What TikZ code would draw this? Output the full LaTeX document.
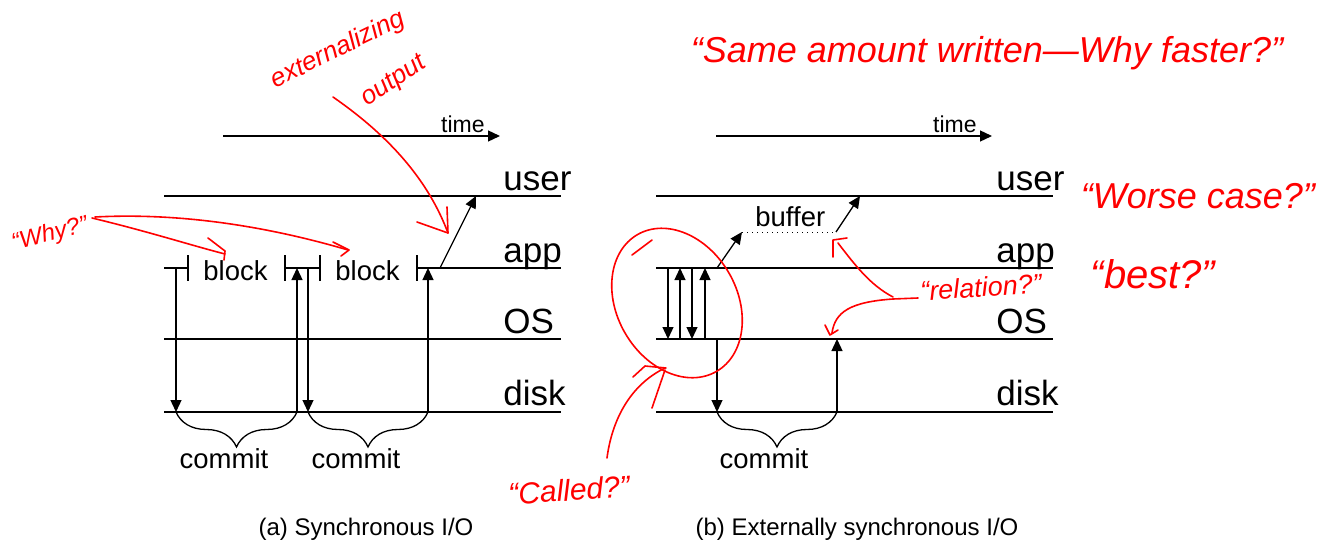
\documentclass[tikz,border=0pt]{standalone}
\usepackage{fontspec}
\setmainfont{Liberation Sans}
\usetikzlibrary{arrows.meta, decorations.pathreplacing}
\tikzstyle{lane} = [line width=0.65pt]
\tikzstyle{io} = [line width=0.65pt, -{Triangle[width=5.5pt,length=6pt]}]
\tikzstyle{commitbrace} = [line width=0.65pt, decorate, decoration={brace, mirror, amplitude=17.5pt}]
\tikzstyle{lanelabel} = [anchor=base west, inner sep=0pt, font=\fontsize{17.5}{20}\selectfont]
\tikzstyle{smalllabel} = [inner sep=0pt, font=\fontsize{13.75}{16}\selectfont]
\tikzstyle{timelabel} = [anchor=base east, inner sep=0pt, font=\fontsize{11.5}{13}\selectfont]
\tikzstyle{caption} = [anchor=base, inner sep=0pt, font=\fontsize{12}{14}\selectfont]
\tikzstyle{note} = [text=red, inner sep=0pt]
\tikzstyle{ink} = [red, line width=0.8pt, line cap=round, line join=round]

\begin{document}
\begin{tikzpicture}[x=0.5pt, y=-0.5pt]
\useasboundingbox (0,0) rectangle (1341,546);

% (a) synchronous
\coordinate (tA0) at (223,136);
\coordinate (tA1) at (500,136);
\draw[io] (tA0) -- (tA1);
\node (timeA) [timelabel] at (485,132) {time};

\draw[lane] (164,196) -- (561,196);
\draw[lane] (164,339) -- (561,339);
\draw[lane] (164,412) -- (561,412);
\node (userA) [lanelabel] at (503,190) {user};
\node (appA) [lanelabel] at (503,262) {app};
\node (osA) [lanelabel] at (503,333) {OS};
\node (diskA) [lanelabel] at (503,405) {disk};

\draw[lane] (164,268) -- (188,268) (188,255) -- (188,281);
\draw[lane] (285,255) -- (285,281) (285,268) -- (320,268) (320,255) -- (320,281);
\draw[lane] (417,255) -- (417,281) (417,268) -- (561,268);
\node (blockA1) [smalllabel, anchor=base west] at (203,280) {block};
\node (blockA2) [smalllabel, anchor=base west] at (335,280) {block};

\coordinate (wA1) at (176,268);
\coordinate (dA1) at (176,412);
\coordinate (dA2) at (297,412);
\coordinate (wA2) at (297,268);
\coordinate (wA3) at (308,268);
\coordinate (dA3) at (308,412);
\coordinate (dA4) at (428,412);
\coordinate (wA4) at (428,268);
\coordinate (outA0) at (440,268);
\coordinate (outA1) at (476,196);
\draw[io] (wA1) -- (dA1);
\draw[io] (dA2) -- (wA2);
\draw[io] (wA3) -- (dA3);
\draw[io] (dA4) -- (wA4);
\draw[io] (outA0) -- (outA1);

\draw[commitbrace] (dA1) -- (dA2);
\draw[commitbrace] (dA3) -- (dA4);
\node (commitA1) [smalllabel, anchor=base] at (224,468) {commit};
\node (commitA2) [smalllabel, anchor=base] at (356,468) {commit};

\node (capA) [caption] at (366,535) {(a) Synchronous I/O};

% (b) externally synchronous
\coordinate (tB0) at (716,136);
\coordinate (tB1) at (992,136);
\draw[io] (tB0) -- (tB1);
\node (timeB) [timelabel] at (977,132) {time};

\draw[lane] (656,196) -- (1053,196);
\draw[lane] (656,268) -- (1053,268);
\draw[lane] (656,339) -- (1053,339);
\draw[lane] (656,412) -- (1053,412);
\node (userB) [lanelabel] at (996,190) {user};
\node (appB) [lanelabel] at (996,262) {app};
\node (osB) [lanelabel] at (996,333) {OS};
\node (diskB) [lanelabel] at (996,405) {disk};

\coordinate (bufA) at (742,232);
\coordinate (bufB) at (836,232);
\coordinate (outB0) at (717,268);
\coordinate (outB1) at (860,196);
\draw[io] (outB0) -- (bufA);
\draw[line width=0.5pt, dotted] (bufA) -- (bufB);
\draw[io] (bufB) -- (outB1);
\node (buffer) [smalllabel, anchor=base west] at (755,226) {buffer};

\draw[io] (668,268) -- (668,339);
\draw[io] (680,339) -- (680,268);
\draw[io] (692,268) -- (692,339);
\draw[io] (705,339) -- (705,268);

\coordinate (sB) at (717,339);
\coordinate (dB1) at (717,412);
\coordinate (dB2) at (837,412);
\coordinate (rB) at (837,339);
\draw[io] (sB) -- (dB1);
\draw[io] (dB2) -- (rB);
\draw[commitbrace] (dB1) -- (dB2);
\node (commitB) [smalllabel, anchor=base] at (764,468) {commit};

\node (capB) [caption] at (857,535) {(b) Externally synchronous I/O};

% notes
\node (extNote) [note, rotate=26, font=\itshape\fontsize{13}{15}\selectfont] at (338,50) {externalizing};
\node (outNote) [note, rotate=34, font=\itshape\fontsize{13}{15}\selectfont] at (394,82) {output};
\draw[ink] (333,97) .. controls (395,140) and (430,185) .. (448,233);
\draw[ink] (417,222) -- (448,233) -- (447,207);

\node (whyNote) [note, rotate=14, font=\itshape\fontsize{12}{14}\selectfont] at (50,235) {“Why?”};
\draw[ink] (92,218) .. controls (150,232) and (190,245) .. (225,254);
\draw[ink] (208,238) -- (225,251) -- (224,260);
\draw[ink] (95,217) .. controls (190,212) and (280,230) .. (348,250);
\draw[ink] (333,242) -- (349,250) -- (341,256);

\node (relNote) [note, rotate=4, font=\itshape\fontsize{13.5}{15}\selectfont] at (981,287) {“relation?”};
\draw[ink] (893,297) .. controls (870,285) and (855,265) .. (838,243);
\draw[ink] (847,238) -- (833,240) -- (833,257);
\draw[ink] (918,298) -- (893,299) .. controls (850,302) and (835,312) .. (832,333);
\draw[ink] (825,325) -- (830,335) -- (838,330);

\coordinate (loop) at (677,303);
\draw[ink, rotate around={-60:(loop)}] (loop) ellipse [x radius=39.5pt, y radius=30pt];
\draw[ink] (632,255) -- (652,240);

\node (calledNote) [note, rotate=4, font=\itshape\fontsize{15}{17}\selectfont] at (569,490) {“Called?”};
\draw[ink] (607,458) .. controls (612,420) and (630,385) .. (665,368);
\draw[ink] (633,377) -- (645,366) -- (666,368);
\draw[ink] (652,408) -- (665,370);

\node (sameNote) [note, anchor=base, font=\itshape\fontsize{18}{20}\selectfont] at (987,62) {“Same amount written—Why faster?”};
\node (worseNote) [note, anchor=base, font=\itshape\fontsize{18}{20}\selectfont] at (1198,208) {“Worse case?”};
\node (bestNote) [note, anchor=base, font=\itshape\fontsize{20}{22}\selectfont] at (1153,288) {“best?”};
\end{tikzpicture}
\end{document}
